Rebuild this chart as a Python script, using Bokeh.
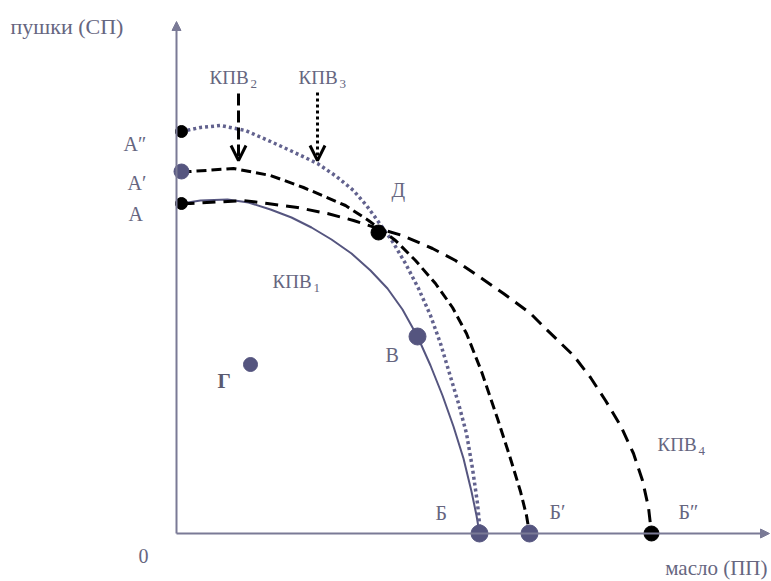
from bokeh.plotting import figure
from bokeh.models import Range1d, Arrow, OpenHead, NormalHead
from bokeh.core.properties import value
from bokeh.embed import file_html
from bokeh.resources import INLINE

# ---------------- data ----------------
# x = масло (ПП), y = пушки (СП); arbitrary units
kpv1_x = [5, 24, 51, 72, 94, 115, 135, 155, 175, 194, 211, 226, 241, 254, 266, 277,
          287, 295, 300, 303]
kpv1_y = [330, 333, 334, 331, 324, 316, 306, 294, 280, 263, 245, 224, 197, 168, 138, 107,
          75, 42, 18, 0]

kpv2_x = [5, 14, 57, 94, 127, 169, 192, 219, 239, 259, 276, 290, 305, 321, 333, 344,
          350, 353]
kpv2_y = [362, 362, 365, 358, 346, 328, 313, 293, 273, 250, 226, 200, 162, 115, 78, 42,
          18, 0]

kpv3_x = [5, 24, 44, 69, 94, 118, 141, 160, 177, 190, 201, 216, 229, 242, 254, 264,
          273, 282, 290, 296, 301, 304]
kpv3_y = [402, 406, 408, 403, 392, 381, 370, 357, 343, 328, 313, 292, 270, 245, 218, 190,
          160, 130, 100, 65, 30, 0]

kpv4_x = [5, 14, 67, 91, 121, 151, 177, 202, 226, 256, 279, 304, 327, 354, 369, 397,
          414, 429, 444, 457, 466, 472, 475]
kpv4_y = [330, 330, 333, 330, 326, 320, 313, 305, 298, 285, 273, 256, 240, 220, 205, 178,
          156, 133, 108, 80, 53, 26, 0]

point_names = ["А″", "А′", "А", "Д", "В", "Г", "Б", "Б′", "Б″"]
point_x = [5, 5, 5, 202, 241, 74, 303, 353, 475]
point_y = [402, 362, 330, 301, 197, 169, 0, 0, 0]

curve_names = ["КПВ", "КПВ", "КПВ", "КПВ"]
curve_index = ["1", "2", "3", "4"]

x_label = "масло (ПП)"
y_label = "пушки (СП)"
origin_label = "0"

# ---------------- layout / style ----------------
W, H = 771, 581
OX, OY = 176, 533          # page position of the origin
def X(px):
    return px - OX
def Y(py):
    return OY - py

SLATE = "#55557f"
AXIS = "#7a7a96"
TEXT = "#66667f"
FONT = value("Liberation Serif")

p = figure(width=W, height=H, output_backend="svg", toolbar_location=None,
           x_range=Range1d(-OX, -OX + W), y_range=Range1d(OY - H, OY),
           min_border=0, background_fill_color="white", border_fill_color="white")
p.axis.visible = False
p.grid.visible = False
p.outline_line_color = None

# axes as arrows
p.add_layout(Arrow(x_start=0, y_start=0, x_end=0, y_end=Y(21),
                   line_color=AXIS, line_width=2,
                   end=NormalHead(size=9, fill_color=AXIS, line_color=AXIS)))
p.add_layout(Arrow(x_start=0, y_start=0, x_end=X(769), y_end=0,
                   line_color=AXIS, line_width=2,
                   end=NormalHead(size=9, fill_color=AXIS, line_color=AXIS)))

# frontiers
p.line(kpv1_x, kpv1_y, line_color=SLATE, line_width=2, line_join="round")
p.line(kpv3_x, kpv3_y, line_color="#62628e", line_width=3.5, line_dash="3 3",
       line_join="round")
p.line(kpv2_x, kpv2_y, line_color="black", line_width=3, line_dash="10 5",
       line_join="round")
p.line(kpv4_x, kpv4_y, line_color="black", line_width=3, line_dash="13 8",
       line_join="round")

# pointer arrows for КПВ2 and КПВ3
p.add_layout(Arrow(x_start=X(238), y_start=Y(93), x_end=X(238), y_end=Y(160),
                   line_color="black", line_width=3, line_dash="12 5",
                   end=OpenHead(size=15, line_width=3, line_color="black")))
p.add_layout(Arrow(x_start=X(317), y_start=Y(92), x_end=X(317), y_end=Y(160),
                   line_color="black", line_width=3, line_dash="3 3",
                   end=OpenHead(size=15, line_width=3, line_color="black")))

# points
dot_color = ["black", SLATE, "black", "black", SLATE, SLATE, SLATE, SLATE, "black"]
dot_size = [12, 15, 12, 15, 17, 14, 17, 17, 15]
p.scatter(point_x, point_y, marker="circle", size=dot_size,
          fill_color=dot_color, line_color=dot_color)

# point labels (page positions of their left / middle)
lab_px = [123, 127, 128, 391, 385, 435, 549, 678]
lab_py = [143, 182, 213, 189, 354, 512, 511, 511]
lab_txt = [point_names[i] for i in (0, 1, 2, 3, 4, 6, 7, 8)]
p.text([X(v) for v in lab_px], [Y(v) for v in lab_py], text=lab_txt,
       text_font=FONT, text_font_size="20px", text_color=TEXT,
       text_align="left", text_baseline="middle")
p.text([X(217)], [Y(380)], text=[point_names[5]], text_font=FONT,
       text_font_size="21px", text_font_style="bold", text_color="#5a5a70",
       text_align="left", text_baseline="middle")

# curve labels with subscripts
c_px = [272, 209, 298, 657]
c_py = [281, 77, 77, 444]
s_px = [313, 250, 339, 698]
p.text([X(v) for v in c_px], [Y(v) for v in c_py], text=curve_names,
       text_font=FONT, text_font_size="19px", text_color=TEXT,
       text_align="left", text_baseline="middle")
p.text([X(v) for v in s_px], [Y(v + 6) for v in c_py], text=curve_index,
       text_font=FONT, text_font_size="13px", text_color=TEXT,
       text_align="left", text_baseline="middle")

# axis titles and origin
p.text([X(10)], [Y(26)], text=[y_label], text_font=FONT, text_font_size="22px",
       text_color=TEXT, text_align="left", text_baseline="middle")
p.text([X(767)], [Y(567)], text=[x_label], text_font=FONT, text_font_size="21px",
       text_color=TEXT, text_align="right", text_baseline="middle")
p.text([X(143)], [Y(555)], text=[origin_label], text_font=FONT, text_font_size="20px",
       text_color=TEXT, text_align="center", text_baseline="middle")

open("out.html", "w").write(file_html(p, INLINE))
